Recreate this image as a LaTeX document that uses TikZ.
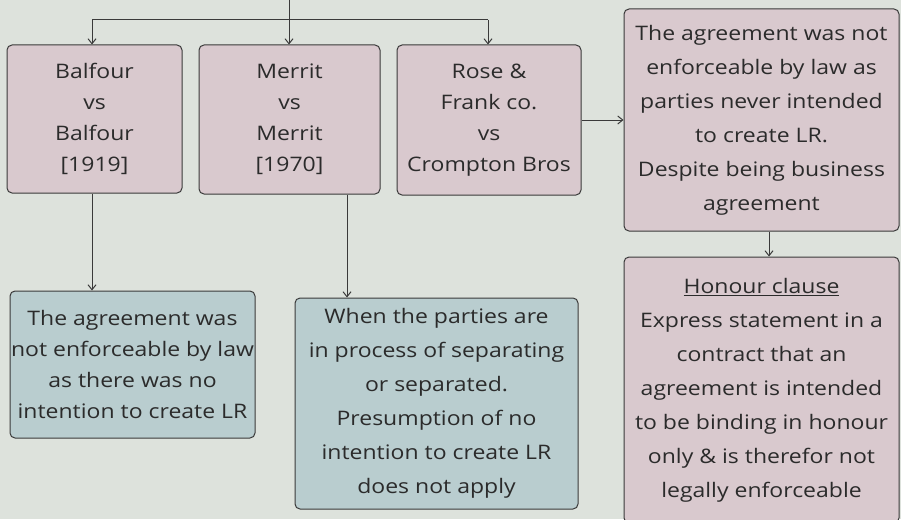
\documentclass[tikz,border=0pt]{standalone}
\usepackage{fontspec}
\setmainfont{Open Sans}[FakeStretch=1.15]
\usetikzlibrary{arrows.meta}
\definecolor{paper}{HTML}{DDE2DC}
\definecolor{casepink}{HTML}{D9C9CE}
\definecolor{rulingblue}{HTML}{B9CDCF}
\definecolor{ink}{HTML}{3A3A3A}
\definecolor{script}{HTML}{2B2B2B}
\begin{document}
\begin{tikzpicture}[x=1pt,y=-1pt,
  box/.style={draw=ink, line width=1pt, rounded corners=5pt, inner sep=0pt,
    align=center, text=script},
  pinkbox/.style={box, fill=casepink},
  bluebox/.style={box, fill=rulingblue},
  txt/.style={font=\fontsize{20}{#1}\selectfont},
  arr/.style={draw=ink, line width=1pt, -{Straight Barb[length=5pt,width=8pt]}}]
  \useasboundingbox (0,0) rectangle (901,519);
  \clip (0,0) rectangle (901,519);
  \fill[paper] (0,0) rectangle (901,519);

  % cases
  \node[pinkbox, txt=31, minimum width=175pt, minimum height=148pt] (b1) at (94.5,119)
    {Balfour\\vs\\Balfour\\{[1919]}};
  \node[pinkbox, txt=31, minimum width=181pt, minimum height=149pt] (b2) at (289.5,119.5)
    {Merrit\\vs\\Merrit\\{[1970]}};
  \node[pinkbox, txt=31, minimum width=184pt, minimum height=150pt] (b3) at (489,120)
    {Rose \&\\Frank co.\\vs\\Crompton Bros};

  % outcomes
  \node[pinkbox, txt=34, minimum width=275pt, minimum height=222pt] (b4) at (761.5,120)
    {The agreement was not\\enforceable by law as\\parties never intended\\to create LR.\\Despite being business\\agreement};
  \node[pinkbox, txt=34, minimum width=275pt, minimum height=266pt] (b5) at (761.5,390)
    {\underline{Honour clause}\\Express statement in a\\contract that an\\agreement is intended\\to be binding in honour\\only \& is therefor not\\legally enforceable};
  \node[bluebox, txt=31, minimum width=245pt, minimum height=147pt] (b6) at (132.5,364.5)
    {The agreement was\\not enforceable by law\\as there was no\\intention to create LR};
  \node[bluebox, txt=34, minimum width=283pt, minimum height=211pt] (b7) at (436.5,403.5)
    {When the parties are\\in process of separating\\or separated.\\Presumption of no\\intention to create LR\\does not apply};

  % branching from the top
  \coordinate (top) at (289,-2);
  \coordinate (fork) at (289,20);
  \coordinate (forkL) at (92,20);
  \coordinate (forkR) at (488,20);
  \draw[draw=ink, line width=1pt] (top) -- (fork);
  \draw[draw=ink, line width=1pt] (forkL) -- (forkR);
  \draw[arr] (forkL) -- (forkL |- b1.north);
  \draw[arr] (fork) -- (fork |- b2.north);
  \draw[arr] (forkR) -- (forkR |- b3.north);

  % case to outcome
  \coordinate (d1) at (92,0);
  \coordinate (d2) at (347,0);
  \coordinate (d4) at (769,0);
  \draw[arr] (d1 |- b1.south) -- (d1 |- b6.north);
  \draw[arr] (d2 |- b2.south) -- (d2 |- b7.north);
  \draw[arr] (b3.east) -- (b3.east -| b4.west);
  \draw[arr] (d4 |- b4.south) -- (d4 |- b5.north);
\end{tikzpicture}
\end{document}
